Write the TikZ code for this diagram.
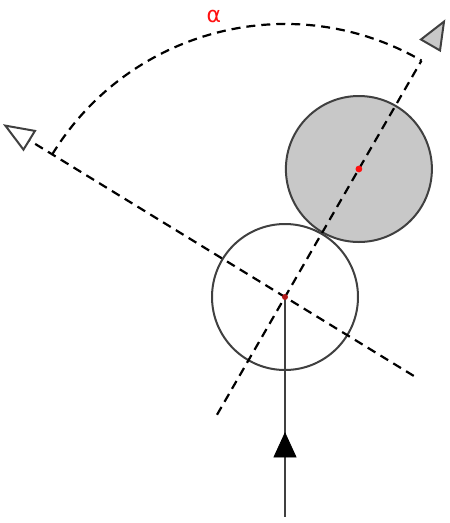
\documentclass[tikz,border=0pt]{standalone}
\usepackage{fontspec}
\newfontfamily\alphafont{DejaVu Sans}
\usetikzlibrary{calc}
\definecolor{rimgray}{HTML}{404040}
\definecolor{ballgray}{HTML}{C8C8C8}
\definecolor{dotred}{HTML}{FF1010}
\definecolor{dotdark}{HTML}{B01818}
\tikzset{
  ball/.style={circle, draw=rimgray, line width=2pt, minimum size=146pt, inner sep=0pt},
  guide/.style={draw=black, line width=2.2pt, dash pattern=on 9pt off 6pt},
  tri/.style={draw=rimgray, line width=2pt, line join=miter},
  alphalabel/.style={text=dotred, font=\alphafont\fontsize{22}{22}\selectfont, inner sep=0pt}
}
\begin{document}
\begin{tikzpicture}[x=1pt,y=1pt]
\useasboundingbox (0,0) rectangle (450,-523);
\coordinate (W) at (285,-297);
\node[ball, fill=white] (white) at (W) {};
\node[ball, fill=ballgray] (gray) at ($(W)+(60:147.8)$) {};
% guide lines
\coordinate (cA) at ($(W)+(240:136)$);
\coordinate (cB) at ($(W)+(60:273)$);
\coordinate (pA) at ($(W)+(-31.5:151)$);
\coordinate (pB) at ($(W)+(148.5:300)$);
\draw[guide] (cA) -- (cB);
\draw[guide] (pA) -- (pB);
\draw[guide] ($(W)+(148.5:273)$) arc[start angle=148.5, end angle=60, radius=273];
% direction triangles
\draw[tri, fill=ballgray] ($(W)+(60:318)$) -- ($(W)+(60:291)+(150:11)$) -- ($(W)+(60:291)+(-30:11)$) -- cycle;
\draw[tri, fill=white] ($(W)+(148.5:328)$) -- ($(W)+(148.5:300)+(58.5:11)$) -- ($(W)+(148.5:300)+(238.5:11)$) -- cycle;
% incoming direction
\coordinate (bottom) at (285,-517);
\draw[draw=rimgray, line width=2pt] (white.center) -- (bottom);
\draw[fill=black, draw=black, line width=0.8pt] (285,-433) -- (274,-457) -- (296,-457) -- cycle;
% centre dots
\fill[dotred] (gray.center) circle[radius=3.4pt];
\fill[dotdark] (white.center) circle[radius=3pt];
% label
\node[alphalabel] (alpha) at (214,-16) {α};
\end{tikzpicture}
\end{document}
